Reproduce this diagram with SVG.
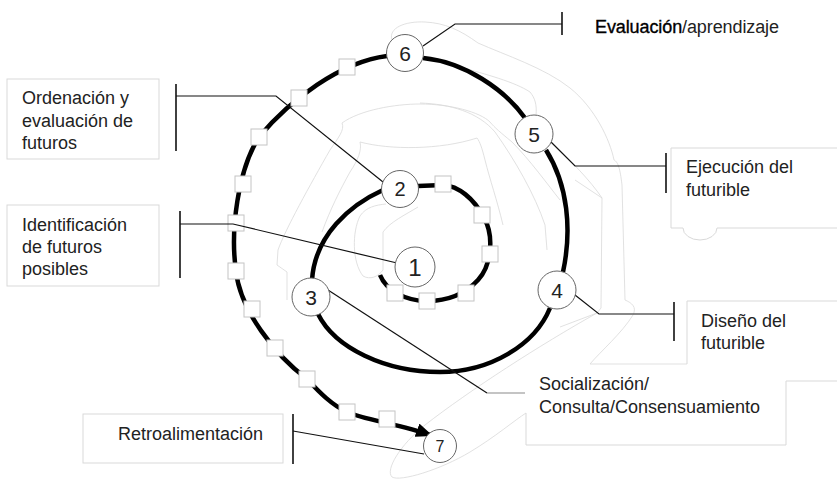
<svg xmlns="http://www.w3.org/2000/svg" width="837" height="486" viewBox="0 0 837 486">
<style>
.bg{fill:none;stroke:#d9d9d9;stroke-width:0.8}
.box{fill:none;stroke:#d9d9d9;stroke-width:1}
.sp{fill:none;stroke:#000;stroke-width:4.5}
.ld{fill:none;stroke:#111;stroke-width:1.2}
.ldg{fill:none;stroke:#8a8a8a;stroke-width:1.2}
.br{fill:none;stroke:#111;stroke-width:1.6}
.sq{fill:#fff;stroke:#c4c4c4;stroke-width:1}
.nc{fill:#fff;stroke:#666;stroke-width:1}
.lbl{font-family:"Liberation Sans",Arial,sans-serif;font-size:18px;fill:#222}
.num{font-family:"Liberation Sans",Arial,sans-serif;fill:#222;text-anchor:middle}
</style>
<defs>
<marker id="arr" markerUnits="userSpaceOnUse" markerWidth="18" markerHeight="14" refX="17" refY="7" orient="auto">
<path d="M0,0 L17,7 L0,14 z" fill="#000"/>
</marker>
</defs>
<rect width="837" height="486" fill="#fff"/>
<g id="background">
<path class="bg" d="M392,40 C388,28 405,21 425,22 C445,23 460,30 478,43 C505,55 545,68 570,88 C595,108 610,140 614,160 C618,162 620,168 622,185 L625,300 C632,303 637,307 633,315 C622,333 600,352 590,364 L687,364"/>
<path class="bg" d="M460,67 C485,74 515,82 530,92 C535,98 537,105 536,115"/>
<path class="bg" d="M552,143 C570,160 590,180 602,198 L601,308 L597,313"/>
<path class="bg" d="M420,103 C450,104 478,112 495,132 C515,160 535,195 545,225 L547,250"/>
<path class="bg" d="M597,313 C540,345 470,390 425,425 C400,445 385,470 392,477 C400,482 440,470 470,452 C495,437 515,420 526,413"/>
<path class="bg" d="M342,123 C360,110 395,104 420,104 C450,104 480,112 490,122"/>
<path class="bg" d="M360,142 C390,150 440,150 477,138"/>
<path class="bg" d="M342,123 C345,130 338,138 330,150 C310,185 285,230 278,250 L277,265 L287,272 L287,300"/>
<path class="bg" d="M360,142 C362,150 358,160 350,172 C340,190 330,210 322,232"/>
<path class="bg" d="M490,122 C495,128 500,132 512,142 C530,160 548,185 560,200"/>
<path class="bg" d="M477,138 C480,142 482,148 485,160 C490,180 497,200 503,225"/>
<path class="bg" d="M418,207 C405,215 390,222 383,232 L383,270 C378,277 370,280 363,276 C352,262 352,232 360,216 C366,207 376,205 386,204"/>
<path class="bg" d="M575,180 L602,198"/>
<path class="bg" d="M560,327 L597,313"/>
</g>
<g id="label-boxes">
<rect class="box" x="7" y="79" width="152" height="80"/>
<rect class="box" x="7" y="205" width="152" height="81"/>
<rect class="box" x="83" y="414" width="200" height="49"/>
<path class="box" d="M837,148 H671 V228 H683 A17,12 0 0 0 717,228 H837"/>
<path class="box" d="M837,301 H687 V364"/>
<path class="box" d="M526,413 V445 H786 V381 H837"/>
</g>
<g id="connectors">
<path class="sp" d="M380,275 C386,290 405,301 427,301 C448,301 466,293 478,280 C492,265 494,235 484,218 C474,198 458,186 443,185 L418,186"/>
<path class="sp" d="M383,190 C350,205 315,235 312,280"/>
<path class="sp" d="M318,314 C335,348 385,372 440,372 C490,372 535,345 550,308"/>
<path class="sp" d="M563,272 C572,230 568,185 546,150"/>
<path class="sp" d="M525,118 C505,90 465,62 423,58"/>
<path class="sp" marker-end="url(#arr)" d="M387,56 C340,62 290,100 259,137 C238,170 230,230 236,271 C240,310 275,355 307,379 C320,393 332,405 347,412 C365,420 400,424 433,436"/>
<g id="squares">
<rect class="sq" x="387" y="285" width="16" height="16"/>
<rect class="sq" x="419" y="293" width="16" height="16"/>
<rect class="sq" x="458" y="285" width="16" height="16"/>
<rect class="sq" x="482" y="246" width="16" height="16"/>
<rect class="sq" x="474" y="207" width="16" height="16"/>
<rect class="sq" x="435" y="176" width="16" height="16"/>
<rect class="sq" x="339" y="59" width="16" height="16"/>
<rect class="sq" x="291" y="90" width="16" height="16"/>
<rect class="sq" x="251" y="129" width="16" height="16"/>
<rect class="sq" x="235" y="176" width="16" height="16"/>
<rect class="sq" x="228" y="215" width="16" height="16"/>
<rect class="sq" x="228" y="263" width="16" height="16"/>
<rect class="sq" x="244" y="301" width="16" height="16"/>
<rect class="sq" x="267" y="340" width="16" height="16"/>
<rect class="sq" x="299" y="371" width="16" height="16"/>
<rect class="sq" x="339" y="404" width="16" height="16"/>
<rect class="sq" x="379" y="411" width="16" height="16"/>
</g>
<path class="ld" d="M423,46 L455,24 L562,24"/>
<path class="br" d="M562,12 V35"/>
<path class="ld" d="M176,96 H276 L383,182"/>
<path class="br" d="M176,84 V151"/>
<path class="ld" d="M180,224 H233 L397,263"/>
<path class="br" d="M180,211 V278"/>
<path class="ld" d="M551,142 L575,166 H666"/>
<path class="br" d="M666,153 V193"/>
<path class="ld" d="M575,295 L599,314 H674"/>
<path class="ldg" d="M599,314 H634"/>
<path class="br" d="M674,302 V341"/>
<path class="ld" d="M328,290 L487,393"/>
<path class="ldg" d="M487,393 H525"/>
<path class="ld" d="M293,431 L424,454"/>
<path class="br" d="M293,414 V464"/>
</g>
<g id="node-1"><circle class="nc" cx="415" cy="267" r="20"/><text class="num" x="415" y="276" font-size="24">1</text></g>
<g id="node-2"><circle class="nc" cx="400" cy="189" r="18.5"/><text class="num" x="400" y="196" font-size="20">2</text></g>
<g id="node-3"><circle class="nc" cx="311" cy="297" r="19"/><text class="num" x="311" y="304.5" font-size="21">3</text></g>
<g id="node-4"><circle class="nc" cx="557" cy="290" r="19"/><text class="num" x="557" y="297.5" font-size="21">4</text></g>
<g id="node-5"><circle class="nc" cx="534" cy="134" r="19"/><text class="num" x="534" y="141.5" font-size="21">5</text></g>
<g id="node-6"><circle class="nc" cx="405" cy="53" r="18.5"/><text class="num" x="405" y="60.5" font-size="21">6</text></g>
<g id="node-7"><circle class="nc" cx="440" cy="446" r="16.5"/><text class="num" x="440" y="452" font-size="16" fill="#555">7</text></g>
<g id="label-ordenacion"><text class="lbl" x="22" y="104">Ordenación y</text><text class="lbl" x="22" y="127">evaluación de</text><text class="lbl" x="22" y="149">futuros</text></g>
<g id="label-identificacion"><text class="lbl" x="22" y="231">Identificación</text><text class="lbl" x="22" y="253">de futuros</text><text class="lbl" x="22" y="275">posibles</text></g>
<g id="label-evaluacion"><text class="lbl" x="595" y="33" font-size="16" textLength="184" lengthAdjust="spacing"><tspan fill="#000" stroke="#000" stroke-width="0.35">Evaluación</tspan>/aprendizaje</text></g>
<g id="label-ejecucion"><text class="lbl" x="686" y="173">Ejecución del</text><text class="lbl" x="686" y="196">futurible</text></g>
<g id="label-diseno"><text class="lbl" x="701" y="327">Diseño del</text><text class="lbl" x="701" y="349">futurible</text></g>
<g id="label-socializacion"><text class="lbl" x="539" y="390">Socialización/</text><text class="lbl" x="539" y="413">Consulta/Consensuamiento</text></g>
<g id="label-retro"><text class="lbl" x="118" y="440">Retroalimentación</text></g>
</svg>
